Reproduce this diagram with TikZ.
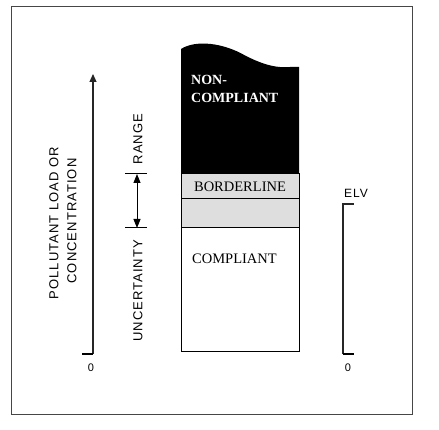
\documentclass[tikz,border=0pt]{standalone}
\usepackage{fontspec}
\setmainfont{Liberation Serif}
\setsansfont{Liberation Sans}
\newfontfamily\ejefont{Liberation Sans}[LetterSpace=8]
\usetikzlibrary{arrows.meta}
\definecolor{banda}{RGB}{222,222,222}
\definecolor{marco}{RGB}{70,70,70}

\begin{document}
\begin{tikzpicture}[x=1pt,y=-1pt,
  eje/.style={line width=1.2pt,draw=black!85},
  rotulo/.style={font=\ejefont\fontsize{13}{15}\selectfont,rotate=90,inner sep=0pt},
  cero/.style={font=\sffamily\fontsize{11}{12}\selectfont,inner sep=0pt},
  zona/.style={font=\fontsize{14.5}{16}\selectfont,inner sep=0pt,anchor=west}]
% margins of the figure
\useasboundingbox[fill=white] (0,0) rectangle (439,430);
\draw[marco,line width=1pt] (11,7) rectangle (412,414);

% the column
\fill[black] (181,174) -- (181,49) .. controls (195,40) and (222,42) .. (246,56)
  .. controls (266,66) and (278,68) .. (290,67) -- (299,67) -- (299,174) -- cycle;
\draw[fill=banda,line width=1pt] (181,174) rectangle (299,199);
\draw[fill=banda,line width=1pt] (181,199) rectangle (299,228);
\draw[fill=white,line width=1pt] (181,228) rectangle (299,351);

\node[zona,text=white,font=\bfseries\fontsize{14}{18}\selectfont,align=left] (nocumple) at (191,89) {NON-\\COMPLIANT};
\node[zona,anchor=center] (limite) at (240,187) {BORDERLINE};
\node[zona] (cumple) at (192,259) {COMPLIANT};

% left axis
\coordinate (ejeA) at (93,354);
\coordinate (ejeB) at (93,74);
\coordinate (pieA) at (82,354);
\draw[eje,-{Triangle[length=8pt,width=7pt]}] (ejeA) -- (ejeB);
\draw[line width=2pt] (pieA) -- (ejeA);
\node[cero] (ceroA) at (91,368) {0};
\node[rotulo] (carga) at (54,223) {POLLUTANT LOAD OR};
\node[rotulo] (conc) at (72,221) {CONCENTRATION};

% uncertainty range
\coordinate (rangoA) at (137,174);
\coordinate (rangoB) at (137,228);
\draw[line width=1pt] (125,174) -- (147,174);
\draw[line width=1pt] (125,228) -- (147,228);
\draw[line width=1pt,{Triangle[length=9pt,width=7pt]}-{Triangle[length=9pt,width=7pt]}] (rangoA) -- (rangoB);
\node[rotulo] (rango) at (138,139) {RANGE};
\node[rotulo] (incert) at (138,291) {UNCERTAINTY};

% ELV axis
\coordinate (elvA) at (343,354);
\coordinate (elvB) at (343,204);
\draw[eje] (elvA) -- (elvB) -- (354,204);
\draw[line width=2pt] (elvA) -- (354,354);
\node[cero,font=\ejefont\fontsize{12}{13}\selectfont] (elv) at (356,193) {ELV};
\node[cero] (ceroB) at (348,368) {0};
\end{tikzpicture}
\end{document}
